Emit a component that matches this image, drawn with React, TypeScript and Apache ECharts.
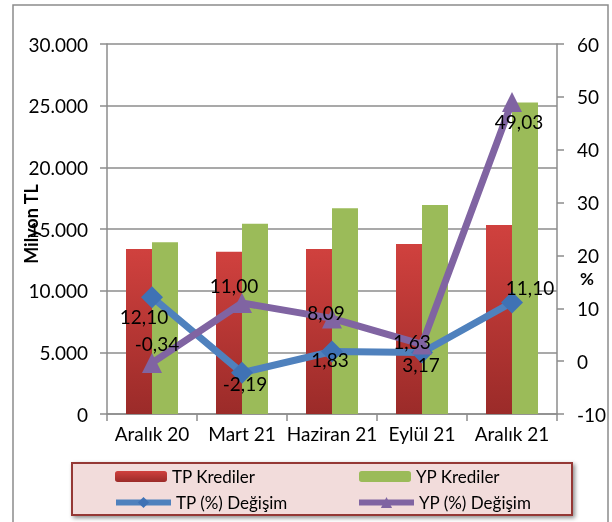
import React, { useEffect, useRef } from "react";
import * as echarts from "echarts";

const categories = ["Aralık 20", "Mart 21", "Haziran 21", "Eylül 21", "Aralık 21"];
const tpKrediler = [13380, 13160, 13380, 13790, 15330];
const ypKrediler = [13920, 15430, 16680, 16950, 25250];
const tpDegisim = [12.1, -2.19, 1.83, 1.63, 11.1];
const ypDegisim = [-0.34, 11.0, 8.09, 3.17, 49.03];

// label offsets (style only)
const tpLabelOffsets = [[-8, 19], [3, 11], [-2, 8], [-10, -11], [18, -15]];
const ypLabelOffsets = [[5, -19], [-8, -18], [-6, -6], [-1, 20], [7, 20]];

const FONT = "Lato";

const fmtThousands = (v: number) => String(v).replace(/\B(?=(\d{3})+(?!\d))/g, ".");
const fmtPct = (v: number) => v.toFixed(2).replace(".", ",");

export default function App() {
  const ref = useRef<HTMLDivElement>(null);
  useEffect(() => {
    if (!ref.current) return;
    const chart = echarts.init(ref.current, null, { renderer: "svg" });
    const labelBase = {
      show: true,
      position: "inside",
      color: "#000",
      fontFamily: FONT,
      fontSize: 19,
      formatter: (p: any) => fmtPct(p.value),
    };
    const legendText = { fontSize: 17, fontFamily: FONT, color: "#000" };
    const barLegend = (name: string, left: number) => ({
      data: [name],
      left,
      top: 468,
      padding: 0,
      itemWidth: 52,
      itemHeight: 11,
      z: 10,
      textStyle: legendText,
    });
    const lineLegend = (name: string, left: number) => ({
      data: [name],
      left,
      top: 494,
      padding: 0,
      itemWidth: 55,
      itemHeight: 14,
      z: 10,
      lineStyle: { width: 6 },
      textStyle: legendText,
    });
    chart.setOption({
      animation: false,
      textStyle: { fontFamily: FONT },
      grid: { left: 107, right: 55, top: 44, bottom: 108 },
      xAxis: {
        type: "category",
        data: categories,
        axisLine: { lineStyle: { color: "#8c8c8c", width: 1.5 } },
        axisTick: { show: true, length: 7, lineStyle: { color: "#8c8c8c", width: 1.5 } },
        axisLabel: { color: "#000", fontSize: 19, fontFamily: FONT, margin: 10, interval: 0 },
      },
      yAxis: [
        {
          type: "value",
          min: 0,
          max: 30000,
          interval: 5000,
          axisLine: { show: true, lineStyle: { color: "#8c8c8c", width: 1.5 } },
          axisTick: { show: true, length: 7, lineStyle: { color: "#8c8c8c", width: 1.5 } },
          splitLine: { show: true, lineStyle: { color: "#8c8c8c", width: 1.5 } },
          axisLabel: {
            color: "#000",
            fontSize: 19,
            fontFamily: FONT,
            margin: 19,
            formatter: (v: number) => fmtThousands(v),
          },
        },
        {
          type: "value",
          min: -10,
          max: 60,
          interval: 10,
          position: "right",
          axisLine: { show: true, lineStyle: { color: "#8c8c8c", width: 1.5 } },
          axisTick: { show: true, length: 7, lineStyle: { color: "#8c8c8c", width: 1.5 } },
          splitLine: { show: false },
          axisLabel: { color: "#000", fontSize: 19, fontFamily: FONT, margin: 20 },
        },
      ],
      legend: [
        barLegend("TP Krediler", 115),
        barLegend("YP Krediler", 359),
        lineLegend("TP (%) Değişim", 113),
        lineLegend("YP (%) Değişim", 356),
      ],
      graphic: [
        {
          type: "rect",
          z: 0,
          shape: { x: 13, y: 5, width: 595, height: 540 },
          style: { fill: "none", stroke: "#8c8c8c", lineWidth: 1.5 },
        },
        {
          type: "rect",
          z: 1,
          shape: { x: 72, y: 463, width: 500, height: 52 },
          style: {
            fill: "#f2dcdb",
            stroke: "#953735",
            lineWidth: 2,
            shadowBlur: 4,
            shadowOffsetX: 2,
            shadowOffsetY: 2,
            shadowColor: "rgba(0,0,0,0.45)",
          },
        },
        {
          type: "text",
          x: 31,
          y: 224,
          rotation: Math.PI / 2,
          z: 5,
          style: {
            text: "Milyon TL",
            fontFamily: FONT,
            fontSize: 18,
            fontWeight: "bold",
            fill: "#000",
            align: "center",
            verticalAlign: "middle",
          },
        },
        {
          type: "text",
          x: 587,
          y: 278,
          z: 5,
          style: {
            text: "%",
            fontFamily: FONT,
            fontSize: 17,
            fontWeight: "bold",
            fill: "#000",
            align: "center",
            verticalAlign: "middle",
          },
        },
      ],
      series: [
        {
          name: "TP Krediler",
          type: "bar",
          data: tpKrediler,
          barWidth: 26,
          barGap: "0%",
          itemStyle: {
            color: new echarts.graphic.LinearGradient(0, 0, 0, 1, [
              { offset: 0, color: "#d0413e" },
              { offset: 1, color: "#9b2b29" },
            ]),
          },
        },
        {
          name: "YP Krediler",
          type: "bar",
          data: ypKrediler,
          barWidth: 26,
          barGap: "0%",
          itemStyle: { color: "#9bbb59" },
        },
        {
          name: "TP (%) Değişim",
          type: "line",
          yAxisIndex: 1,
          data: tpDegisim.map((v, i) => ({
            value: v,
            label: { ...labelBase, offset: tpLabelOffsets[i] },
          })),
          symbol: "diamond",
          symbolSize: 22,
          lineStyle: { color: "#4f81bd", width: 7 },
          itemStyle: { color: "#3f72b5" },
          label: labelBase,
          z: 3,
        },
        {
          name: "YP (%) Değişim",
          type: "line",
          yAxisIndex: 1,
          data: ypDegisim.map((v, i) => ({
            value: v,
            label: { ...labelBase, offset: ypLabelOffsets[i] },
          })),
          symbol: "triangle",
          symbolSize: 20,
          lineStyle: { color: "#8064a2", width: 7 },
          itemStyle: { color: "#8064a2" },
          label: labelBase,
          z: 3,
        },
      ],
    });
    return () => chart.dispose();
  }, []);
  return (
    <div
      ref={ref}
      style={{ position: "fixed", left: 0, top: 0, width: 612, height: 522 }}
    />
  );
}
